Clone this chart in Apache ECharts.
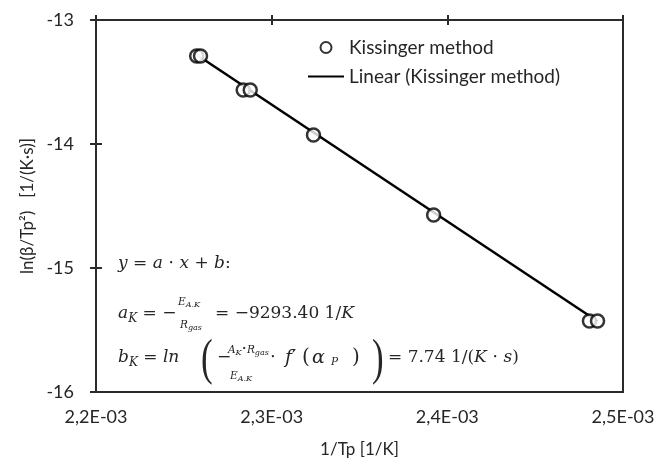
<!DOCTYPE html>
<html>
<head>
<meta charset="utf-8">
<script src="https://cdn.jsdelivr.net/npm/echarts@6/dist/echarts.min.js"></script>
<style>
  html, body { margin: 0; padding: 0; background: #fff; }
  #chart { width: 659px; height: 460px; }
</style>
</head>
<body>
<div id="chart"></div>
<script>
  // measured points (1/Tp, ln(beta/Tp^2))
  const invTp = [0.0022573, 0.0022595, 0.0022838, 0.0022878, 0.0023238, 0.0023922, 0.0024809, 0.0024855];
  const lnBeta = [-13.29, -13.29, -13.565, -13.565, -13.927, -14.573, -15.427, -15.427];
  // trend line end points
  const trendX = [0.0022573, 0.0024855];
  const trendY = [-13.28, -15.43];
  const xTickLabels = ['2,2E-03', '2,3E-03', '2,4E-03', '2,5E-03'];
  const yTickLabels = ['-16', '-15', '-14', '-13'];

  const font = 'Lato';
  const mathFont = 'DejaVu Serif';
  const ink = '#262626';
  const lineCol = '#2b2b2b';

  const xMin = 0.0022, xMax = 0.0025, xStep = 0.0001;

  const xLabel = (v) => xTickLabels[Math.round((v - xMin) / xStep)] || '';
  const yLabel = (v) => yTickLabels[Math.round(v + 16)] || '';

  const rich = {
    i: { fontFamily: mathFont, fontStyle: 'italic', fontSize: 17, fill: ink },
    b: { fontFamily: mathFont, fontStyle: 'italic', fontSize: 19, fill: ink },
    s: { fontFamily: mathFont, fontStyle: 'italic', fontSize: 12, fill: ink, padding: [9, 0, 0, 0] },
    si: { fontFamily: mathFont, fontStyle: 'italic', fontSize: 10.5, fill: ink },
    ss: { fontFamily: mathFont, fontStyle: 'italic', fontSize: 8, fill: ink, padding: [6, 0, 0, 0] }
  };

  const txt = (x, y, text, size) => ({
    type: 'text', x: x, y: y, z: 10,
    style: { text: text, rich: rich, fontFamily: mathFont, fontSize: size || 17, fill: ink, align: 'left', verticalAlign: 'middle' }
  });

  const paren = (x, y, ch) => ({
    type: 'text', x: x, y: y, z: 10, scaleX: 0.7,
    style: { text: ch, fontFamily: 'Liberation Serif', fontSize: 50, fill: ink, align: 'left', verticalAlign: 'middle' }
  });

  const chart = echarts.init(document.getElementById('chart'));
  chart.setOption({
    animation: false,
    grid: {
      left: 96, right: 36, top: 20, bottom: 68, outerBoundsMode: 'none',
      show: true, borderColor: lineCol, borderWidth: 2
    },
    legend: {
      left: 302, top: 33, orient: 'vertical', itemGap: 10,
      itemWidth: 36, itemHeight: 11,
      textStyle: { fontFamily: font, fontSize: 19, color: ink },
      data: [
        { name: 'Kissinger method' },
        { name: 'Linear (Kissinger method)', itemStyle: { opacity: 0 } }
      ]
    },
    xAxis: [
      {
        type: 'value', min: xMin, max: xMax, interval: xStep, position: 'bottom',
        name: '1/Tp [1/K]', nameLocation: 'middle', nameGap: 49,
        nameTextStyle: { fontFamily: font, fontSize: 17, color: ink },
        axisLine: { show: true, onZero: false, lineStyle: { color: lineCol, width: 2 } },
        axisTick: { show: false },
        axisLabel: { formatter: xLabel, fontFamily: font, fontSize: 18, color: ink, margin: 16 },
        splitLine: { show: false }
      },
      {
        type: 'value', min: xMin, max: xMax, interval: xStep, position: 'top',
        axisLine: { show: true, onZero: false, lineStyle: { color: lineCol, width: 2 } },
        axisTick: { show: true, inside: true, length: 5, lineStyle: { color: lineCol, width: 2 } },
        axisLabel: { show: false }, splitLine: { show: false }
      },
      {
        type: 'value', min: xMin, max: xMax, interval: xStep, position: 'top',
        axisLine: { show: false, onZero: false },
        axisTick: { show: true, inside: false, length: 5, lineStyle: { color: lineCol, width: 2 } },
        axisLabel: { show: false }, splitLine: { show: false }
      }
    ],
    yAxis: [
      {
        type: 'value', min: -16, max: -13, interval: 1, position: 'left',
        name: 'ln(β/Tp²)   [1/(K·s)]', nameLocation: 'middle', nameGap: 60,
        nameTextStyle: { fontFamily: font, fontSize: 17, color: ink },
        axisLine: { show: true, onZero: false, lineStyle: { color: lineCol, width: 2 } },
        axisTick: { show: true, inside: true, length: 6, lineStyle: { color: lineCol, width: 2 } },
        axisLabel: { formatter: yLabel, fontFamily: font, fontSize: 18, color: ink, margin: 22 },
        splitLine: { show: false }
      },
      {
        type: 'value', min: -16, max: -13, interval: 1, position: 'left',
        axisLine: { show: false, onZero: false },
        axisTick: { show: true, inside: false, length: 6, lineStyle: { color: lineCol, width: 2 } },
        axisLabel: { show: false }, splitLine: { show: false }
      }
    ],
    series: [
      {
        name: 'Kissinger method', type: 'scatter', z: 3,
        data: invTp.map((x, i) => [x, lnBeta[i]]),
        symbol: 'circle', symbolSize: 13,
        itemStyle: { color: '#fff', borderColor: '#000', borderWidth: 2.5 }
      },
      {
        name: 'Linear (Kissinger method)', type: 'line', z: 2,
        data: trendX.map((x, i) => [x, trendY[i]]),
        symbol: 'none',
        lineStyle: { color: '#000', width: 2.5 },
        itemStyle: { color: '#000' }
      }
    ],
    graphic: [
      txt(118, 264, '{i|y} = {i|a} ⋅ {i|x} + {i|b}:'),
      // a_K line
      txt(118, 314, '{i|a}{s|K} = −'),
      txt(178, 302, '{si|E}{ss|A.K}'),
      txt(180, 325, '{si|R}{ss|gas}'),
      txt(215, 314, '= −9293.40 1/{i|K}'),
      // b_K line
      txt(118, 358, '{i|b}{s|K} = {i|ln}'),
      paren(201, 361, '('),
      txt(217, 358, '−'),
      txt(228, 350, '{si|A}{ss|K}·{si|R}{ss|gas}'),
      txt(230, 376, '{si|E}{ss|A.K}'),
      txt(270, 358, '⋅'),
      txt(285, 358, '{b|f}′', 19),
      txt(302, 358, '(', 20),
      txt(312, 358, '{b|α}', 20),
      txt(331, 362, '{si|P}'),
      txt(352, 358, ')', 20),
      paren(372, 361, ')'),
      txt(388, 358, '= 7.74 1/({i|K} ⋅ {i|s})')
    ]
  });
</script>
</body>
</html>
